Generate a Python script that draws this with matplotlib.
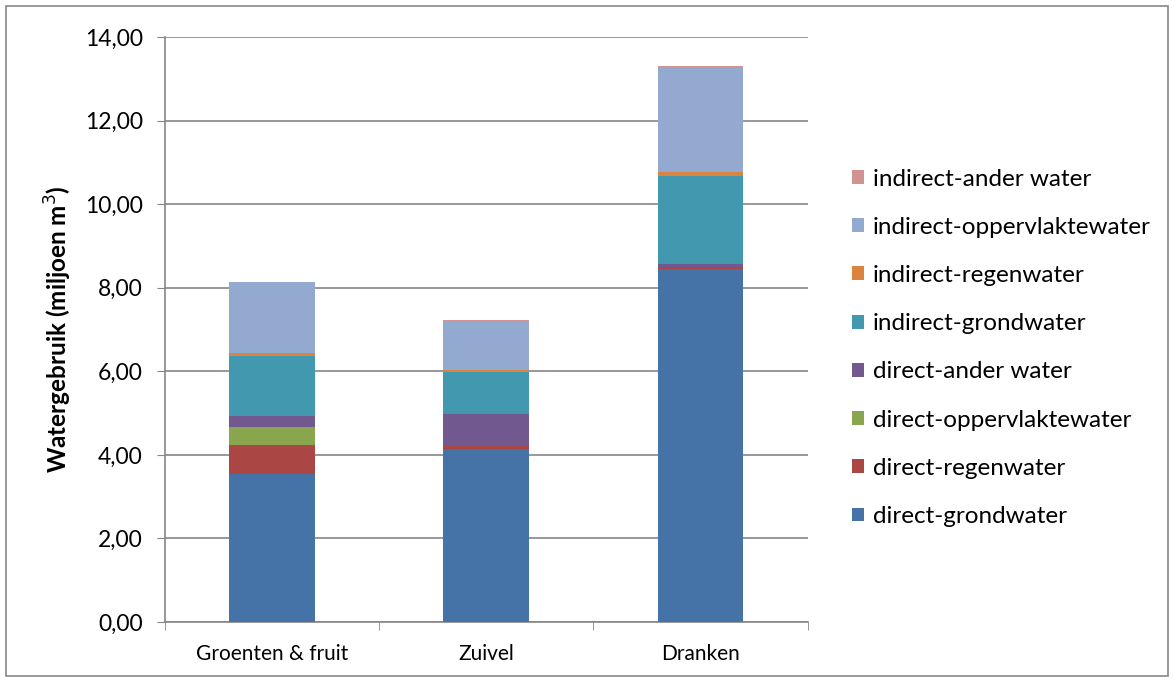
import numpy as np
import matplotlib.pyplot as plt
from matplotlib.patches import Rectangle
from matplotlib.ticker import FuncFormatter

categories = ['Groenten & fruit', 'Zuivel', 'Dranken']
series = ['direct-grondwater', 'direct-regenwater', 'direct-oppervlaktewater',
          'direct-ander water', 'indirect-grondwater', 'indirect-regenwater',
          'indirect-oppervlaktewater', 'indirect-ander water']
direct_grond = [3.53, 4.15, 8.45]
direct_regen = [0.70, 0.06, 0.04]
direct_opp = [0.44, 0.01, 0.00]
direct_ander = [0.27, 0.75, 0.07]
indirect_grond = [1.43, 1.01, 2.11]
indirect_regen = [0.07, 0.05, 0.10]
indirect_opp = [1.69, 1.18, 2.51]
indirect_ander = [0.01, 0.02, 0.02]
values = [direct_grond, direct_regen, direct_opp, direct_ander,
          indirect_grond, indirect_regen, indirect_opp, indirect_ander]
colors = ['#4572A7', '#AA4643', '#89A54E', '#71588F',
          '#4198AF', '#DB843D', '#93A9CF', '#D19392']

plt.rcParams['font.family'] = ['Lato', 'DejaVu Sans']

fig = plt.figure(figsize=(11.74, 6.82), dpi=100)
fig.patches.append(Rectangle((0.005, 0.009), 0.99, 0.982, transform=fig.transFigure,
                             fill=False, edgecolor='#878787', linewidth=1.2))
ax = fig.add_axes([0.1405, 0.088, 0.5475, 0.8577])

x = np.arange(len(categories))
bottom = np.zeros(len(categories))
handles = []
for name, vals, c in zip(series, values, colors):
    b = ax.bar(x, vals, 0.4, bottom=bottom, color=c, label=name, zorder=3)
    handles.append(b)
    bottom += np.array(vals)

ax.set_xlim(-0.5, 2.5)
ax.set_ylim(0, 14)
ax.set_yticks(np.arange(0, 15, 2))
ax.yaxis.set_major_formatter(FuncFormatter(lambda v, p: f'{v:.2f}'.replace('.', ',')))
ax.grid(axis='y', color='#868686', linewidth=1.2, zorder=0)
ax.set_xticks(x)
ax.set_xticklabels(categories)
ax.set_xticks([-0.5, 0.5, 1.5, 2.5], minor=True)
ax.tick_params(axis='x', which='major', length=0, labelsize=15, pad=16)
ax.tick_params(axis='x', which='minor', length=6, color='#868686', direction='out')
ax.tick_params(axis='y', length=6, color='#868686', labelsize=16.5, pad=10)
for s in ['top', 'right']:
    ax.spines[s].set_visible(False)
for s in ['left', 'bottom']:
    ax.spines[s].set_color('#868686')
    ax.spines[s].set_linewidth(1.2)

ax.set_ylabel('Watergebruik (miljoen m$^3$)', fontsize=17.5, fontweight='bold', labelpad=8)

fig.legend(handles[::-1], series[::-1], loc='center left', bbox_to_anchor=(0.707, 0.49),
           frameon=False, fontsize=17.5, handlelength=0.5, handleheight=0.5,
           handletextpad=0.35, labelspacing=1.12)

fig.savefig('out.png', dpi=100)
